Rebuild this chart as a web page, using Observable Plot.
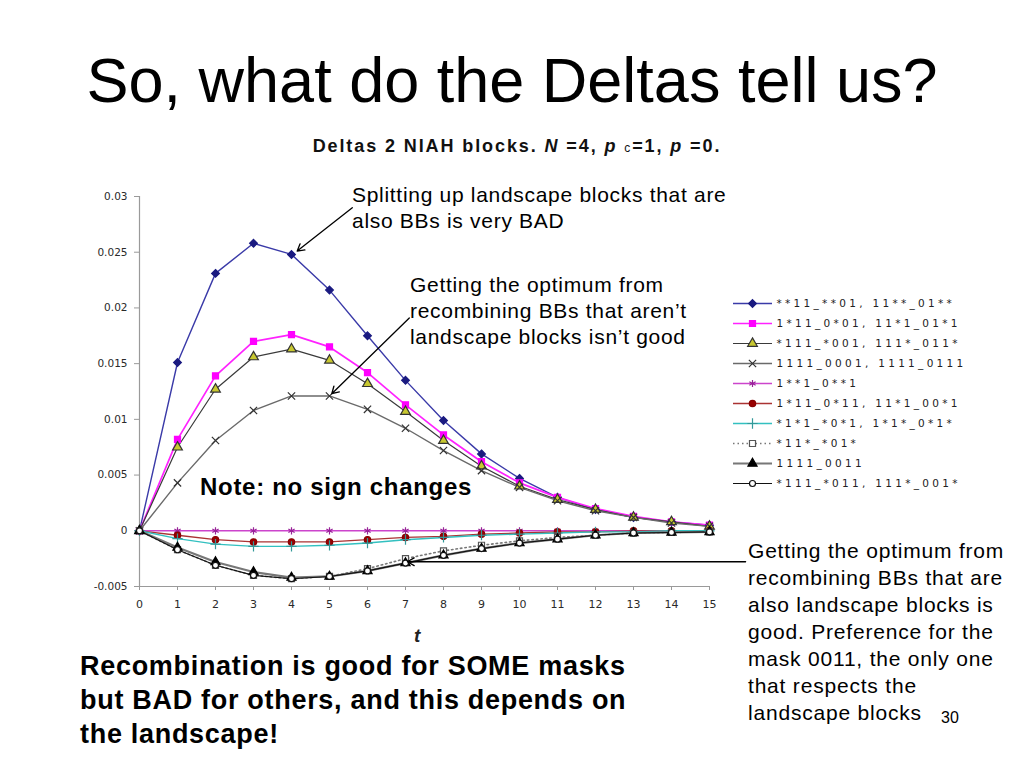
<!DOCTYPE html>
<html><head><meta charset="utf-8">
<script src="https://cdn.jsdelivr.net/npm/d3@7"></script>
<script src="https://cdn.jsdelivr.net/npm/@observablehq/plot@0.6"></script>
<style>
body{margin:0;background:#fff;width:1024px;height:768px;overflow:hidden;position:relative;font-family:"Liberation Sans",Arial,sans-serif;}
.abs{position:absolute;white-space:nowrap;color:#000;}
</style></head><body>
<div id="chart" style="position:absolute;left:0;top:0"></div>
<div id="legend" style="position:absolute;left:728px;top:290px"></div>
<div class="abs" style="left:0;width:1024px;text-align:center;top:44px;font-size:63px;line-height:72px">So, what do the Deltas tell us?</div>
<div class="abs" style="left:0;width:1034px;text-align:center;top:134px;font-size:18px;line-height:24px;font-weight:bold;letter-spacing:1.9px;color:#111">Deltas 2 NIAH blocks. <i>N</i> =4, <i>p</i> <span style="font-size:12px;font-weight:normal">c</span>=1, <i>p</i> =0.</div>
<div class="abs" style="left:352px;top:182px;font-size:21px;line-height:26px;letter-spacing:0.7px">Splitting up landscape blocks that are<br>also BBs is very BAD</div>
<div class="abs" style="left:410px;top:272px;font-size:21px;line-height:26px;letter-spacing:0.7px">Getting the optimum from<br>recombining BBs that aren’t<br>landscape blocks isn’t good</div>
<div class="abs" style="left:200px;top:473px;font-size:24px;line-height:28px;font-weight:bold;letter-spacing:0.7px">Note: no sign changes</div>
<div class="abs" style="left:748px;top:537px;font-size:21px;line-height:27px;letter-spacing:0.8px">Getting the optimum from<br>recombining BBs that are<br>also landscape blocks is<br>good. Preference for the<br>mask 0011, the only one<br>that respects the<br>landscape blocks</div>
<div class="abs" style="left:941px;top:708px;font-size:16px;line-height:20px">30</div>
<div class="abs" style="left:80px;top:649px;font-size:27px;line-height:34px;font-weight:bold;letter-spacing:0.7px">Recombination is good for SOME masks<br>but BAD for others, and this depends on<br>the landscape!</div>
<div class="abs" style="left:414px;top:624px;font-size:19px;line-height:24px;font-weight:bold;font-style:italic;color:#222">t</div>
<script>
// ---- data ----
const tValues = [0,1,2,3,4,5,6,7,8,9,10,11,12,13,14,15];
const seriesLabels = [
  "**11_**01, 11**_01**",
  "1*11_0*01, 11*1_01*1",
  "*111_*001, 111*_011*",
  "1111_0001, 1111_0111",
  "1**1_0**1",
  "1*11_0*11, 11*1_00*1",
  "*1*1_*0*1, 1*1*_0*1*",
  "*11*_*01*",
  "1111_0011",
  "*111_*011, 111*_001*"
];
const s1 = [0,0.0151,0.0231,0.0258,0.0248,0.0216,0.0175,0.0135,0.0099,0.0069,0.0047,0.0030,0.0019,0.0012,0.0008,0.0005];
const s2 = [0,0.0082,0.0139,0.0170,0.0176,0.0165,0.0142,0.0113,0.0086,0.0062,0.0043,0.0030,0.0020,0.0013,0.0008,0.0005];
const s3 = [0,0.0075,0.0127,0.0156,0.0163,0.0153,0.0132,0.0107,0.0081,0.0058,0.0040,0.0028,0.0019,0.0012,0.0008,0.0004];
const s4 = [0,0.0043,0.0081,0.0108,0.0121,0.0121,0.0109,0.0092,0.0072,0.0054,0.0039,0.0027,0.0018,0.0012,0.0007,0.0004];
const s5 = [0,0,0,0,0,0,0,0,0,0,0,0,0,0,0,0];
const s6 = [0,-0.0004,-0.0008,-0.0010,-0.0010,-0.0010,-0.0008,-0.0006,-0.0005,-0.0003,-0.0002,-0.0001,-0.0001,0,0,0];
const s7 = [0,-0.0007,-0.0012,-0.0014,-0.0014,-0.0013,-0.0011,-0.0008,-0.0006,-0.0004,-0.0003,-0.0002,-0.0001,-0.0001,0,0];
const s8 = [0,-0.0017,-0.0031,-0.0040,-0.0043,-0.0041,-0.0034,-0.0025,-0.0018,-0.0013,-0.0009,-0.0006,-0.0004,-0.0002,-0.00015,-0.0001];
const s9 = [0,-0.0015,-0.0028,-0.0037,-0.0042,-0.0041,-0.0036,-0.0029,-0.0022,-0.0016,-0.0011,-0.00075,-0.0004,-0.0002,-0.00015,-0.0001];
const s10 = [0,-0.0017,-0.0031,-0.0040,-0.0043,-0.0041,-0.0036,-0.0029,-0.0022,-0.0016,-0.0011,-0.00075,-0.0004,-0.0002,-0.00015,-0.0001];
const seriesValues = [s1,s2,s3,s4,s5,s6,s7,s8,s9,s10];
const xTicks = [0,1,2,3,4,5,6,7,8,9,10,11,12,13,14,15];
const yTicks = [-0.005,0,0.005,0.01,0.015,0.02,0.025,0.03];
const yTickLabels = ["-0.005","0","0.005","0.01","0.015","0.02","0.025","0.03"];
// annotation arrows (data coordinates)
const annotationArrows = [
  {x1:5.6, y1:0.0290, x2:4.15, y2:0.0251},
  {x1:7.1, y1:0.0191, x2:5.06, y2:0.0123},
  {x1:15.95, y1:-0.00278, x2:7.05, y2:-0.00278}
];

// ---- styles ----
const styles = [
  {stroke:"#3a3aa8", sw:1.4, dash:null, symbol:"diamond2", fill:"#1a1a80", mstroke:"#1a1a80", r:3.5},
  {stroke:"#ff22ff", sw:1.7, dash:null, symbol:"square", fill:"#ff00ff", mstroke:"#ff00ff", r:3.4},
  {stroke:"#3a3a3a", sw:1.2, dash:null, symbol:"triangle", fill:"#c8c830", mstroke:"#333", r:3.6},
  {stroke:"#6a6a6a", sw:1.4, dash:null, symbol:"times", fill:"none", mstroke:"#333", r:3.4},
  {stroke:"#cc44cc", sw:1.4, dash:null, symbol:"asterisk", fill:"none", mstroke:"#992299", r:3.4},
  {stroke:"#aa3333", sw:1.3, dash:null, symbol:"circle", fill:"#990000", mstroke:"#880000", r:3.2},
  {stroke:"#33c0c0", sw:1.4, dash:null, symbol:"plus", fill:"none", mstroke:"#339999", r:3.4},
  {stroke:"#777", sw:1.6, dash:"1.5,3", symbol:"square", fill:"#fff", mstroke:"#555", r:3.4},
  {stroke:"#777", sw:2.2, dash:null, symbol:"triangle", fill:"#000", mstroke:"#000", r:3.4},
  {stroke:"#111", sw:1.1, dash:null, symbol:"circle", fill:"#fff", mstroke:"#111", r:3}
];

const rows = [];
seriesValues.forEach((vals, k) => vals.forEach((v, i) => rows.push({t: tValues[i], v, k})));

const seriesMarks = [];
styles.forEach((s, k) => {
  const d = rows.filter(r => r.k === k);
  seriesMarks.push(Plot.line(d, {x:"t", y:"v", stroke:s.stroke, strokeWidth:s.sw, strokeDasharray:s.dash || undefined}));
});
styles.forEach((s, k) => {
  const d = rows.filter(r => r.k === k);
  seriesMarks.push(Plot.dot(d, {x:"t", y:"v", symbol:s.symbol, fill:s.fill, stroke:s.mstroke, strokeWidth:1.2, r:s.r}));
});

const chart = Plot.plot({
  width:1024, height:768,
  marginLeft:139, marginRight:315, marginTop:196, marginBottom:182,
  x:{domain:[0,15], axis:null},
  y:{domain:[-0.005,0.03], axis:null},
  style:{fontFamily:"DejaVu Sans", fontSize:"10.5px", color:"#333", background:"transparent", overflow:"visible"},
  marks:[
    Plot.ruleX([0], {y1:-0.005, y2:0.03, stroke:"#9a9a9a", strokeWidth:1.2}),
    Plot.ruleY([-0.005], {x1:0, x2:15, stroke:"#9a9a9a", strokeWidth:1.2}),
    Plot.axisY({ticks:yTicks, tickSize:5, tickPadding:7, stroke:"#9a9a9a", fill:"#2a2a2a",
      tickFormat:d => yTickLabels[yTicks.indexOf(d)], fontSize:10.5}),
    Plot.axisX({ticks:xTicks, tickSize:4, tickPadding:10, stroke:"#9a9a9a", fill:"#2a2a2a", fontSize:11}),
    ...seriesMarks,
    Plot.arrow(annotationArrows, {x1:"x1", y1:"y1", x2:"x2", y2:"y2", stroke:"#000", strokeWidth:1.3, headLength:9, bend:0})
  ]
});
document.getElementById("chart").appendChild(chart);

// ---- legend ----
const legendMarks = [];
styles.forEach((s, k) => {
  const name = seriesLabels[k];
  legendMarks.push(Plot.ruleY([name], {x1:5, x2:44, stroke:s.stroke, strokeWidth:s.sw, strokeDasharray:s.dash || undefined}));
  legendMarks.push(Plot.dot([name], {x:24, y:d => d, symbol:s.symbol, fill:s.fill, stroke:s.mstroke, strokeWidth:1.2, r:s.r}));
  legendMarks.push(Plot.text([name], {x:48, y:d => d, text:d => d, textAnchor:"start", fill:"#222"}));
});
const legend = Plot.plot({
  width:232, height:205, margin:0,
  x:{domain:[0,232], axis:null},
  y:{domain:seriesLabels, axis:null, type:"point", padding:0.5},
  style:{fontFamily:"DejaVu Sans", fontSize:"10.5px", letterSpacing:"3.3px", background:"transparent", overflow:"visible"},
  marks:legendMarks
});
document.getElementById("legend").appendChild(legend);
</script>
</body></html>
